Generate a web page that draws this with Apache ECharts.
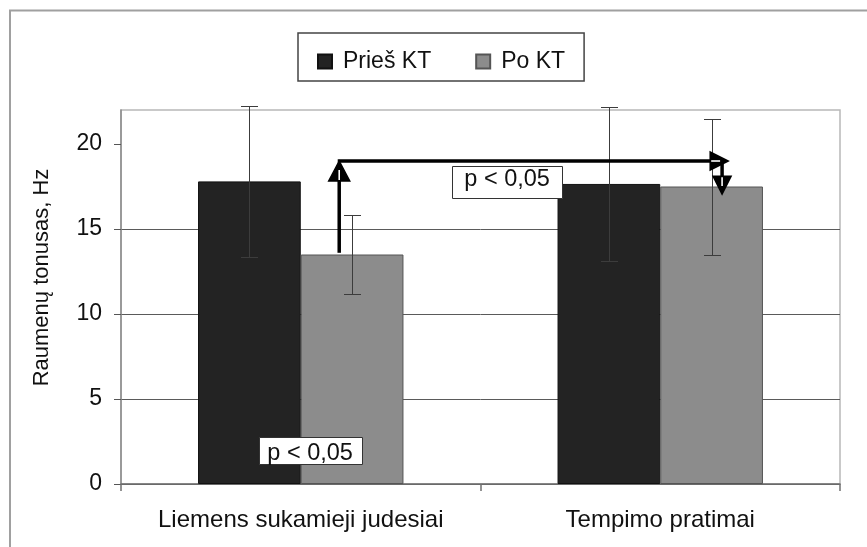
<!DOCTYPE html>
<html><head><meta charset="utf-8">
<script src="https://cdn.jsdelivr.net/npm/echarts@6/dist/echarts.min.js"></script>
<style>html,body{margin:0;padding:0;background:#fff}#c{width:867px;height:547px}</style>
</head><body><div id="c"></div>
<script>
const categories = ['Liemens sukamieji judesiai', 'Tempimo pratimai'];
const seriesNames = ['Prieš KT', 'Po KT'];
const beforeMeans = [17.8, 17.65];
const beforeSD = [4.42, 4.52];
const afterMeans = [13.5, 17.5];
const afterSD = [2.35, 4.0];
const yTickValues = [0, 5, 10, 15, 20];
const yMin = 0;
const yMax = 22;
const yStep = 5;
const yAxisTitle = 'Raumenų tonusas, Hz';
const pText = 'p < 0,05';
// significance annotation anchors: [category index, value]
const sigStart = [0, 13.6];
const sigLevel = 19;
const sigEnd = [1, 17.05];
const pLabelUpper = [0, 17.76];
const pLabelLower = [0, 1.98];

const FONT = '"Liberation Sans", Arial, sans-serif';
const chart = echarts.init(document.getElementById('c'), null, {renderer: 'canvas'});

function errorItems(means, sds, s) { return means.map((m, i) => [i, m, sds[i], s]); }

function renderError(params, api) {
  const cat = api.value(0), m = api.value(1), sd = api.value(2), s = api.value(3);
  const bw = api.size([1, 0])[0];
  const off = (s === 0 ? -1 : 1) * bw / 7;
  const p1 = api.coord([cat, m + sd]);
  const p2 = api.coord([cat, m - sd]);
  const x = Math.round(p1[0] + off) + 0.5;
  const y1 = Math.round(p1[1]) + 0.5, y2 = Math.round(p2[1]) + 0.5;
  const cap = 8.5;
  const st = {stroke: '#3c3c3c', lineWidth: 1};
  return {type: 'group', children: [
    {type: 'line', shape: {x1: x, y1: y1, x2: x, y2: y2}, style: st},
    {type: 'line', shape: {x1: x - cap, y1: y1, x2: x + cap, y2: y1}, style: st},
    {type: 'line', shape: {x1: x - cap, y1: y2, x2: x + cap, y2: y2}, style: st}
  ]};
}

function labelBox(cx, cy, w, h, ty) {
  return [
    {type: 'rect', shape: {x: Math.round(cx - w / 2) + 0.5, y: Math.round(cy - h / 2) + 0.5, width: w, height: h},
      style: {fill: '#fff', stroke: '#333', lineWidth: 1}},
    {type: 'text', x: cx, y: ty, style: {text: pText, font: '23.5px ' + FONT, fill: '#111', align: 'center', verticalAlign: 'middle'}}
  ];
}

// arrowhead: tip (tx,ty), direction unit (dx,dy), length L, half-width H
function arrowHead(tx, ty, dx, dy, L, H) {
  const bx = tx - dx * L, by = ty - dy * L;
  const px = -dy, py = dx;
  return [
    {type: 'polygon', shape: {points: [[tx, ty], [bx + px * H, by + py * H], [bx - px * H, by - py * H]]},
      style: {fill: '#000', stroke: '#000', lineWidth: 1.5, lineJoin: 'miter'}},
    {type: 'line', shape: {x1: bx + dx * 1, y1: by + dy * 1, x2: bx + dx * L * 0.55, y2: by + dy * L * 0.55},
      style: {stroke: '#fff', lineWidth: 1.6}}
  ];
}

function renderSig(params, api) {
  const bw = api.size([1, 0])[0];
  const a = api.coord([sigStart[0], sigStart[1]]);
  const lvl = api.coord([sigStart[0], sigLevel])[1];
  const b = api.coord([sigEnd[0], sigEnd[1]]);
  const x0 = a[0] + 0.107 * bw;
  const xr = b[0] + 0.189 * bw;
  const xd = b[0] + 0.172 * bw;
  const lw = 3.5;
  const line = {stroke: '#000', lineWidth: lw, fill: null};
  const ch = [];
  ch.push({type: 'line', shape: {x1: x0, y1: a[1], x2: x0, y2: lvl + 18}, style: line});
  ch.push({type: 'line', shape: {x1: x0 - 1.5, y1: lvl, x2: xr - 16, y2: lvl}, style: line});
  ch.push({type: 'line', shape: {x1: xd, y1: lvl, x2: xd, y2: b[1] - 16}, style: line});
  arrowHead(x0, lvl, 0, -1, 20, 10.5).forEach(e => ch.push(e));
  arrowHead(xr, lvl, 1, 0, 18, 9).forEach(e => ch.push(e));
  arrowHead(xd, b[1], 0, 1, 18, 9).forEach(e => ch.push(e));
  const u = api.coord(pLabelUpper);
  const l = api.coord(pLabelLower);
  labelBox(u[0] + 0.574 * bw, u[1], 110, 32, u[1] - 2.5).forEach(e => ch.push(e));
  labelBox(l[0] + 0.026 * bw, l[1], 103, 27, l[1] + 3.5).forEach(e => ch.push(e));
  return {type: 'group', children: ch};
}

chart.setOption({
  animation: false,
  backgroundColor: '#fff',
  textStyle: {fontFamily: FONT},
  grid: {left: 121, right: 27, top: 110, bottom: 63, show: true, borderColor: '#b8b8b8', borderWidth: 1.5, backgroundColor: 'transparent'},
  legend: {
    data: seriesNames,
    left: 298, top: 33,
    orient: 'horizontal',
    icon: 'rect',
    itemWidth: 14, itemHeight: 14, itemGap: 44,
    padding: [17, 19, 8, 19],
    borderColor: '#444', borderWidth: 1.5,
    textStyle: {fontSize: 23, color: '#111', fontFamily: FONT, padding: [0, 0, 7, 6]},
    selectedMode: false
  },
  xAxis: {
    type: 'category', data: categories,
    axisLine: {lineStyle: {color: '#707070', width: 1.5}},
    axisTick: {show: true, length: 7, lineStyle: {color: '#707070', width: 1.5}},
    axisLabel: {fontSize: 24, color: '#111', margin: 24, fontFamily: FONT, interval: 0, hideOverlap: false},
    splitLine: {show: false}
  },
  yAxis: {
    type: 'value', min: yMin, max: yMax, interval: yStep,
    axisLine: {show: true, lineStyle: {color: '#8a8a8a', width: 1.5}},
    axisTick: {show: true, length: 7, customValues: yTickValues, lineStyle: {color: '#555', width: 1}},
    axisLabel: {fontSize: 23, color: '#111', margin: 19, customValues: yTickValues, fontFamily: FONT},
    splitLine: {show: true, showMaxLine: false, lineStyle: {color: '#5a5a5a', width: 1}}
  },
  graphic: [
    {type: 'rect', shape: {x: 10, y: 10.5, width: 900, height: 600}, style: {fill: 'none', stroke: '#a0a0a0', lineWidth: 2}, z: -10},
    {type: 'text', x: 42, y: 277.5, rotation: Math.PI / 2,
      style: {text: yAxisTitle, font: '22px ' + FONT, fill: '#111', align: 'center', verticalAlign: 'middle'}}
  ],
  series: [
    {name: seriesNames[0], type: 'bar', data: beforeMeans, barGap: '0%', barCategoryGap: '42.86%',
      itemStyle: {color: '#232323', borderColor: '#111', borderWidth: 1}},
    {name: seriesNames[1], type: 'bar', data: afterMeans, barGap: '0%', barCategoryGap: '42.86%',
      itemStyle: {color: '#8c8c8c', borderColor: '#555', borderWidth: 1}},
    {name: 'err0', type: 'custom', renderItem: renderError, data: errorItems(beforeMeans, beforeSD, 0), z: 5, silent: true},
    {name: 'err1', type: 'custom', renderItem: renderError, data: errorItems(afterMeans, afterSD, 1), z: 5, silent: true},
    {name: 'sig', type: 'custom', renderItem: renderSig, data: [[0, sigLevel]], z: 6, silent: true}
  ]
});
</script></body></html>
